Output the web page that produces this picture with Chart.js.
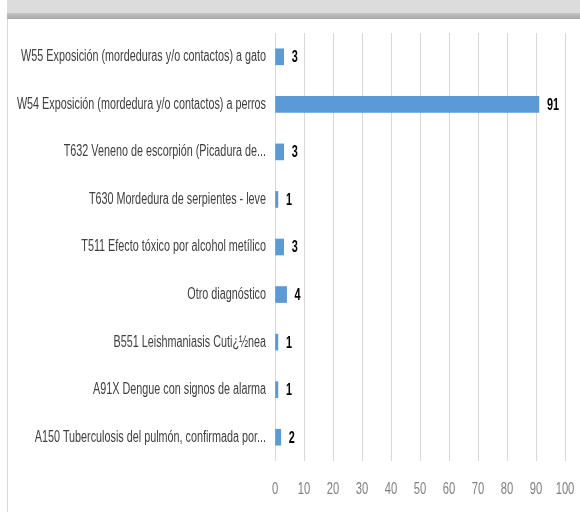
<!DOCTYPE html>
<html>
<head>
<meta charset="utf-8">
<script src="https://cdn.jsdelivr.net/npm/chart.js@4"></script>
<style>
	body { margin: 0; background: #fff; }
	#wrap { position: relative; width: 580px; height: 512px; overflow: hidden; }
	#banner { position: absolute; left: 7px; top: 0; width: 573px; height: 13px; background: #dcdcdc; }
	#band { position: absolute; left: 7px; top: 13px; width: 573px; height: 6px; background: linear-gradient(#c4c4c4, #a8a8a8); }
	#edge { position: absolute; left: 7px; top: 19px; width: 1px; height: 493px; background: #d9d9d9; }
	canvas { position: absolute; left: 0; top: 0; }
</style>
</head>
<body>
<div id="wrap">
	<div id="banner"></div>
	<div id="band"></div>
	<div id="edge"></div>
	<canvas id="chart01" width="580" height="512"></canvas>
</div>
<script>
const labels = [
	"W55 Exposición (mordeduras y/o contactos) a gato",
	"W54 Exposición (mordedura y/o contactos) a perros",
	"T632 Veneno de escorpión (Picadura de...",
	"T630 Mordedura de serpientes - leve",
	"T511 Efecto tóxico por alcohol metílico",
	"Otro diagnóstico",
	"B551 Leishmaniasis Cuti¿½nea",
	"A91X Dengue con signos de alarma",
	"A150 Tuberculosis del pulmón, confirmada por...",
];

const values = [3, 91, 3, 1, 3, 4, 1, 1, 2];

const xTicks = [0, 10, 20, 30, 40, 50, 60, 70, 80, 90, 100];

// the original uses a narrow face, so text is squeezed sideways
function narrowText(ctx, text, x, y, align, font, color, squeeze) {
	ctx.save();
	ctx.font = font;
	ctx.fillStyle = color;
	ctx.textAlign = align;
	ctx.textBaseline = "middle";
	ctx.translate(x, y);
	ctx.scale(squeeze, 1);
	ctx.fillText(text, 0, 0);
	ctx.restore();
}

// category names, x tick labels and bar values
const narrowLabels = {
	id: "narrowLabels",
	afterDraw(chart) {
		const ctx = chart.ctx;
		const xs = chart.scales.x;
		const ys = chart.scales.y;
		labels.forEach((name, i) => {
			narrowText(ctx, name, 266, ys.getPixelForValue(i), "right", "16px 'Liberation Sans'", "#404040", 0.675);
		});
		xTicks.forEach((v) => {
			narrowText(ctx, String(v), xs.getPixelForValue(v), 489, "center", "17px 'Liberation Sans'", "#808080", 0.66);
		});
		chart.getDatasetMeta(0).data.forEach((bar, i) => {
			narrowText(ctx, String(values[i]), bar.x + 8, bar.y + 1, "left", "bold 16px 'Liberation Sans'", "#000", 0.68);
		});
	},
};

const config = {
	type: "bar",
	data: {
		labels,
		datasets: [
			{
				data: values,
				backgroundColor: "#5b9bd5",
				barThickness: 16,
			},
		],
	},
	options: {
		indexAxis: "y",
		responsive: false,
		animation: false,
		layout: {
			padding: { top: 33, right: 15, bottom: 0, left: 0 },
		},
		plugins: {
			legend: { display: false },
			tooltip: { enabled: false },
		},
		scales: {
			x: {
				min: 0,
				max: 100,
				afterBuildTicks(scale) {
					scale.ticks = xTicks.map((v) => ({ value: v }));
				},
				afterFit(scale) {
					scale.height = 51;
				},
				border: { display: false },
				grid: { color: "#d9d9d9", drawTicks: false },
				ticks: { display: false },
			},
			y: {
				afterFit(scale) {
					scale.width = 275;
				},
				border: { display: false },
				grid: { display: false, drawTicks: false },
				ticks: { display: false },
			},
		},
	},
	plugins: [narrowLabels],
};

new Chart(document.querySelector("#chart01"), config);
</script>
</body>
</html>
